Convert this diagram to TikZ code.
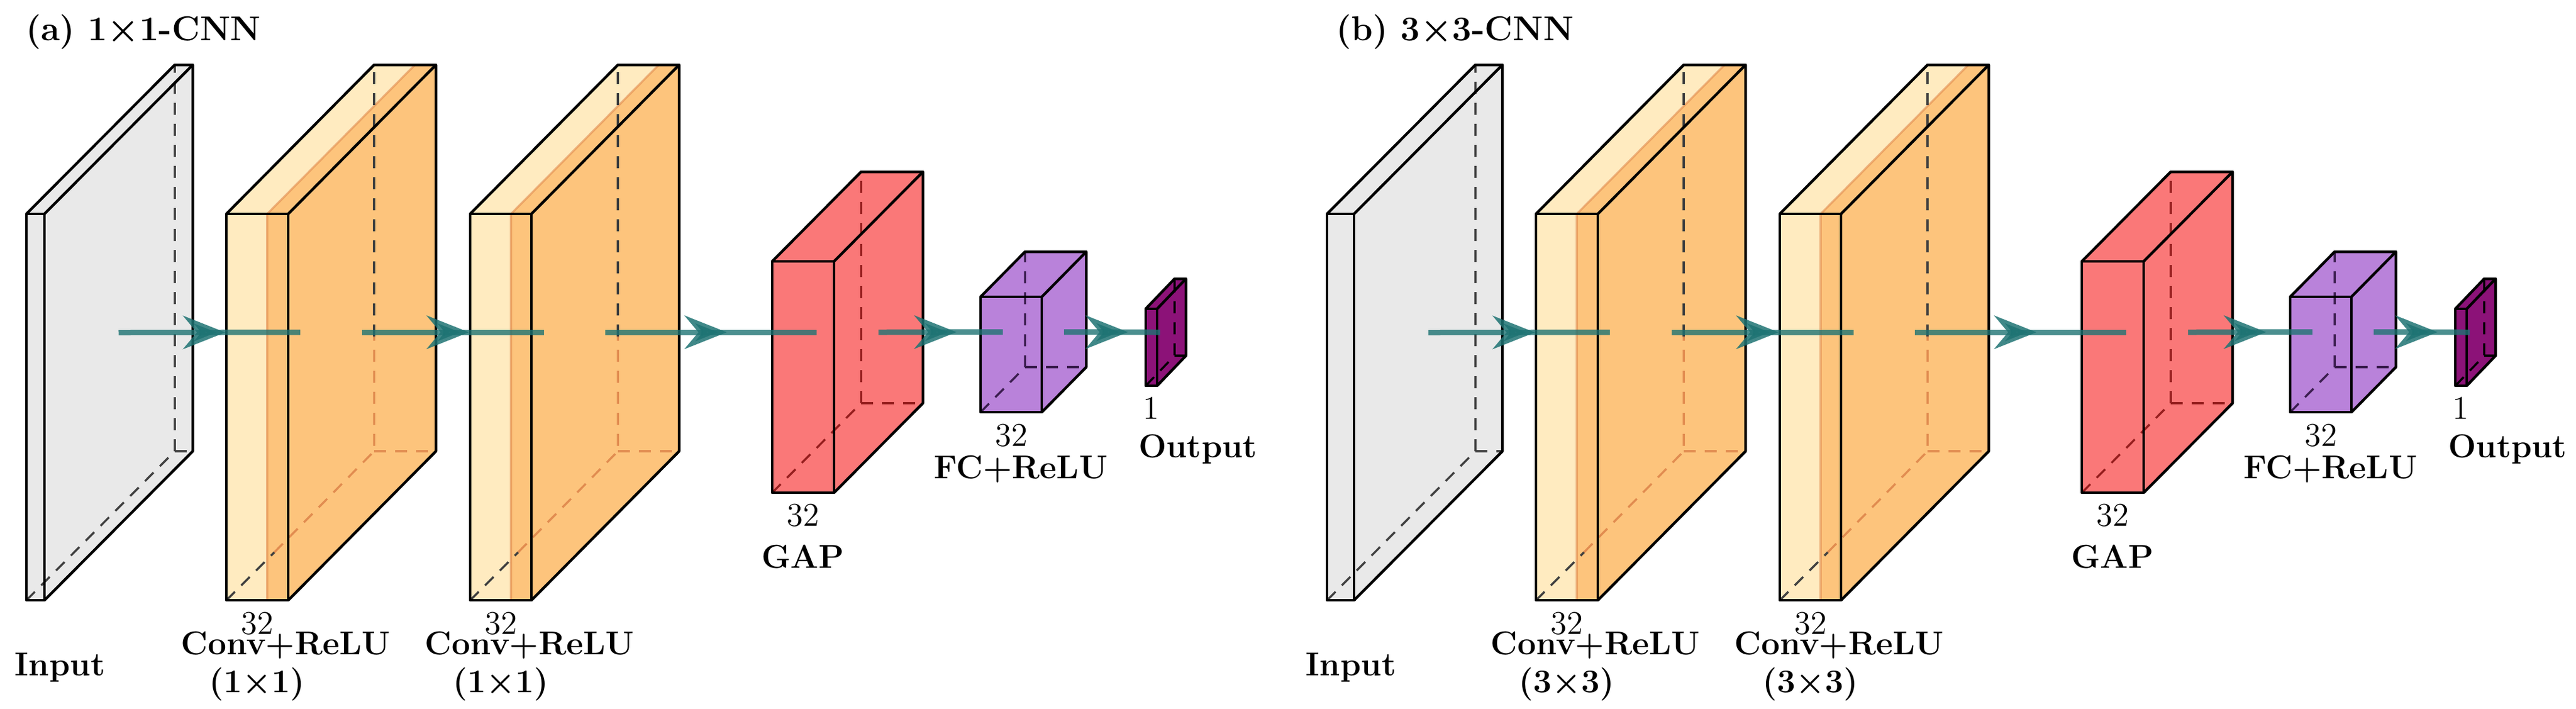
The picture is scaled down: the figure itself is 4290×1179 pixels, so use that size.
\documentclass[tikz,border=0pt]{standalone}
\usepackage{amsmath}
\usetikzlibrary{arrows.meta}
\definecolor{inc}{RGB}{233,233,233}
\definecolor{cvl}{RGB}{255,235,192}
\definecolor{cvd}{RGB}{253,196,124}
\definecolor{cvdash}{RGB}{225,140,80}
\definecolor{gapc}{RGB}{250,120,120}
\definecolor{gapdash}{RGB}{150,30,30}
\definecolor{fcc}{RGB}{185,130,218}
\definecolor{fcdash}{RGB}{60,30,80}
\definecolor{outc}{RGB}{140,18,120}
\definecolor{arrc}{RGB}{30,115,115}
\tikzset{
  edge/.style={draw=black, line width=0.9pt, line join=round},
  hid/.style={dashed, line width=0.7pt, dash pattern=on 4pt off 3pt},
  conn/.style={draw=arrc, line width=1.8pt, opacity=0.8},
  midarr/.style={pos=0.5, anchor=east, xshift=6.4pt, inner sep=0pt, outer sep=0pt, opacity=0.85},
  lab/.style={font=\fontsize{11}{13}\selectfont\bfseries, inner sep=0pt},
  num/.style={font=\fontsize{11}{13}\selectfont, inner sep=0pt},
  ttl/.style={font=\fontsize{11.5}{13}\selectfont\bfseries, inner sep=0pt, anchor=west}
}
% #1 name, #2 x0, #3 x1, #4 ytop, #5 ybot, #6 dx, #7 d, #8 fill, #9 dash colour
\newcommand{\myblk}[9]{%
  \fill[#8] (#2,#4) rectangle (#3,#5);
  \fill[#8] (#2,#4) -- (#3,#4) -- (#3+#6,#4-#7) -- (#2+#6,#4-#7) -- cycle;
  \fill[#8] (#3,#4) -- (#3+#6,#4-#7) -- (#3+#6,#5-#7) -- (#3,#5) -- cycle;
  \draw[hid,#9] (#2,#5) -- (#2+#6,#5-#7) -- (#2+#6,#4-#7);
  \draw[hid,#9] (#2+#6,#5-#7) -- (#3+#6,#5-#7);
  \draw[edge] (#2,#4) rectangle (#3,#5);
  \draw[edge] (#2,#4) -- (#2+#6,#4-#7) -- (#3+#6,#4-#7) -- (#3+#6,#5-#7) -- (#3,#5);
  \draw[edge] (#3,#4) -- (#3+#6,#4-#7);
  \coordinate (#1-e) at ({#3+#6/2},{(#4+#5)/2-#7/2});
  \coordinate (#1-w) at ({#2+#6/2},{(#4+#5)/2-#7/2});
}
% conv: #1 name, #2 x0, #3 xm, #4 x1
\newcommand{\myconv}[4]{%
  \fill[cvl] (#2,356) rectangle (#3,999);
  \fill[cvd] (#3,356) rectangle (#4,999);
  \fill[cvl] (#2,356) -- (#3,356) -- (#3+246,108) -- (#2+246,108) -- cycle;
  \fill[cvd] (#3,356) -- (#4,356) -- (#4+246,108) -- (#3+246,108) -- cycle;
  \fill[cvd] (#4,356) -- (#4+246,108) -- (#4+246,751) -- (#4,999) -- cycle;
  \draw[cvdash, line width=0.7pt, opacity=0.6] (#3,356) -- (#3,999);
  \draw[cvdash, line width=0.7pt, opacity=0.6] (#3,356) -- (#3+246,108);
  \draw[hid,black!75] (#2,999) -- (#2+80,919);
  \draw[hid,cvdash] (#2+80,919) -- (#2+246,751) -- (#2+246,560);
  \draw[hid,black!75] (#2+246,560) -- (#2+246,108);
  \draw[hid,cvdash] (#2+246,751) -- (#4+246,751);
  \draw[edge] (#2,356) rectangle (#4,999);
  \draw[edge] (#2,356) -- (#2+246,108) -- (#4+246,108) -- (#4+246,751) -- (#4,999);
  \draw[edge] (#4,356) -- (#4+246,108);
  \coordinate (#1-e) at ({#4+123},553);
  \coordinate (#1-w) at ({#2+123},553);
}
\newcommand{\myhead}{\tikz\draw[-{Stealth[length=14pt,width=11pt]}, line width=2.2pt, draw=arrc] (0,0) -- (8pt,0);}
\newcommand{\mypanel}[5]{% #1 prefix, #2 shift (chain), #3 input x0, #4 input x1, #5 kernel
  \myblk{#1in}{#3}{#4}{356}{999}{247}{248}{inc}{black!75}
  \myconv{#1c1}{377+#2}{445+#2}{480+#2}
  \myconv{#1c2}{783+#2}{851+#2}{885+#2}
  \myblk{#1gap}{1286+#2}{1389+#2}{435}{820}{148}{149}{gapc}{gapdash}
  \myblk{#1fc}{1633+#2}{1735+#2}{494}{686}{74}{75}{fcc}{fcdash}
  \myblk{#1out}{1908+#2}{1927+#2}{514}{642}{48}{50}{outc}{black}
  \draw[conn] (#1in-e) -- node[midarr] (#1h1) {\myhead} (#1c1-w);
  \draw[conn] (#1c1-e) -- node[midarr] (#1h2) {\myhead} (#1c2-w);
  \draw[conn] (#1c2-e) -- node[midarr] (#1h3) {\myhead} (#1gap-w);
  \draw[conn] (#1gap-e) -- node[midarr] (#1h4) {\myhead} (#1fc-w);
  \draw[conn] (#1fc-e) -- node[midarr] (#1h5) {\myhead} (#1out-w);
  \node[num] (#1n1) at (428+#2,1038) {32};
  \node[lab] (#1l1) at (476+#2,1074) {Conv+ReLU};
  \node[lab] (#1k1) at (428+#2,1139) {(#5)};
  \node[num] (#1n2) at (834+#2,1038) {32};
  \node[lab] (#1l2) at (882+#2,1074) {Conv+ReLU};
  \node[lab] (#1k2) at (834+#2,1139) {(#5)};
  \node[num] (#1n3) at (1337+#2,858) {32};
  \node[lab] (#1l3) at (1337+#2,927) {GAP};
  \node[num] (#1n4) at (1684+#2,725) {32};
  \node[lab] (#1l4) at (1700+#2,781) {FC+ReLU};
  \node[num] (#1n5) at (1917+#2,679) {1};
  \node[lab] (#1l5) at (1995+#2,748) {Output};
}
\begin{document}
\begin{tikzpicture}[x=0.2pt, y=-0.2pt]
\useasboundingbox (0,0) rectangle (4290,1179);
\mypanel{a}{0}{44}{74}{1{\boldmath$\times$}1}
\mypanel{b}{2181}{2210}{2255}{3{\boldmath$\times$}3}
\node[lab] (ainl) at (100,1111) {Input};
\node[lab] (binl) at (2250,1111) {Input};
\node[ttl] (at) at (42,53) {(a) 1{\boldmath$\times$}1-CNN};
\node[ttl] (bt) at (2224,53) {(b) 3{\boldmath$\times$}3-CNN};
\end{tikzpicture}
\end{document}
